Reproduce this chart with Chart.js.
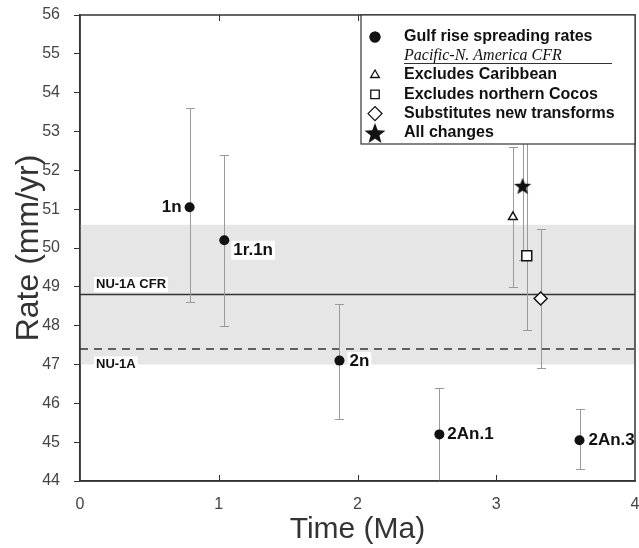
<!DOCTYPE html>
<html>
<head>
<meta charset="utf-8">
<script src="https://cdn.jsdelivr.net/npm/chart.js@4.4.1/dist/chart.umd.min.js"></script>
<style>
  html, body { margin: 0; padding: 0; background: #fff; overflow: hidden; }
  canvas { display: block; }
</style>
</head>
<body>
<canvas id="chart" width="639" height="548"></canvas>
<script>
// Gulf rise spreading rates (anomaly, age in Ma, rate and its error range in mm/yr)
const gulfNames = ["1n", "1r.1n", "2n", "2An.1", "2An.3"];
const gulfAge = [0.79, 1.04, 1.87, 2.59, 3.60];
const gulfRate = [51.05, 50.2, 47.1, 45.2, 45.05];
const gulfLow = [48.6, 48.0, 45.6, 44.0, 44.3];
const gulfHigh = [53.6, 52.4, 48.55, 46.4, 45.85];

// Pacific-N. America CFR variants
const cfrNames = ["Excludes Caribbean", "Excludes northern Cocos", "Substitutes new transforms", "All changes"];
const cfrAge = [3.12, 3.22, 3.32, 3.19];
const cfrRate = [50.8, 49.8, 48.7, 51.6];
const cfrLow = [49.0, 47.9, 46.9, 49.7];
const cfrHigh = [52.6, 53.0, 50.5, 53.5];

// NU-1A reference rates
const nuCfrRate = 48.8;
const nuCfrLow = 47.0;
const nuCfrHigh = 50.6;
const nuRate = 47.4;

const xRange = [0, 4];
const yRange = [44, 56];

const FONT = "'Liberation Sans', Arial, Helvetica, sans-serif";

function starCanvas(r) {
  const c = document.createElement("canvas");
  c.width = c.height = Math.ceil(r * 2 + 2);
  const g = c.getContext("2d");
  g.translate(c.width / 2, c.height / 2 + r * 0.1);
  g.beginPath();
  for (let i = 0; i < 10; i++) {
    const rr = i % 2 ? r * 0.42 : r;
    const a = -Math.PI / 2 + i * Math.PI / 5;
    g.lineTo(rr * Math.cos(a), rr * Math.sin(a));
  }
  g.closePath();
  g.fillStyle = "#111";
  g.fill();
  return c;
}

const cfrStyles = [
  { pointStyle: "triangle", radius: 5, legendRadius: 5 },
  { pointStyle: "rect", radius: 7, legendRadius: 6 },
  { pointStyle: "rectRot", radius: 6.5, legendRadius: 7 },
  { pointStyle: starCanvas(9), radius: 9, legendStyle: starCanvas(11), legendRadius: 11 },
];

const gulfPoints = gulfAge.map((a, i) => ({ x: a, y: gulfRate[i], lo: gulfLow[i], hi: gulfHigh[i] }));

const datasets = [
  {
    label: "band",
    type: "line",
    data: [{ x: xRange[0], y: nuCfrHigh }, { x: xRange[1], y: nuCfrHigh }],
    fill: { value: nuCfrLow },
    backgroundColor: "#e6e6e6",
    borderWidth: 0,
    pointRadius: 0,
    order: 10,
  },
  {
    label: "NU-1A CFR",
    type: "line",
    data: [{ x: xRange[0], y: nuCfrRate }, { x: xRange[1], y: nuCfrRate }],
    borderColor: "#333",
    borderWidth: 1.5,
    pointRadius: 0,
    fill: false,
    order: 9,
  },
  {
    label: "NU-1A",
    type: "line",
    data: [{ x: xRange[0], y: nuRate }, { x: xRange[1], y: nuRate }],
    borderColor: "#333",
    borderWidth: 1.5,
    borderDash: [8, 6],
    pointRadius: 0,
    fill: false,
    order: 9,
  },
  {
    label: "Gulf rise spreading rates",
    data: gulfPoints,
    pointStyle: "circle",
    pointRadius: 5,
    backgroundColor: "#111",
    borderColor: "#111",
    borderWidth: 0,
    errorBars: true,
    names: gulfNames,
    order: 5,
  },
];
cfrNames.forEach((name, i) => {
  datasets.push({
    label: name,
    data: [{ x: cfrAge[i], y: cfrRate[i], lo: cfrLow[i], hi: cfrHigh[i] }],
    pointStyle: cfrStyles[i].pointStyle,
    pointRadius: cfrStyles[i].radius,
    backgroundColor: "#fff",
    borderColor: "#111",
    borderWidth: 1.5,
    errorBars: true,
    order: 1,
  });
});
const GULF = 3;

const errorBars = {
  id: "errorBars",
  beforeDatasetDraw(chart, args) {
    if (args.index !== GULF) return;
    const ctx = chart.ctx, xs = chart.scales.x, ys = chart.scales.y;
    ctx.save();
    ctx.strokeStyle = "#9a9a9a";
    ctx.lineWidth = 1;
    chart.data.datasets.forEach((ds) => {
      if (!ds.errorBars) return;
      ds.data.forEach((p) => {
        const px = Math.round(xs.getPixelForValue(p.x)) + 0.5;
        const top = Math.round(ys.getPixelForValue(p.hi)) + 0.5;
        const bot = Math.round(ys.getPixelForValue(p.lo)) + 0.5;
        ctx.beginPath();
        ctx.moveTo(px, top); ctx.lineTo(px, bot);
        ctx.moveTo(px - 4.5, top); ctx.lineTo(px + 4.5, top);
        ctx.moveTo(px - 4.5, bot); ctx.lineTo(px + 4.5, bot);
        ctx.stroke();
      });
    });
    ctx.restore();
  },
};

function boxedText(ctx, text, x, y, align) {
  const w = ctx.measureText(text).width;
  const h = parseInt(ctx.font.match(/(\d+)px/)[1], 10);
  const left = align === "right" ? x - w : x;
  ctx.fillStyle = "#fff";
  ctx.fillRect(left - 2, y - h / 2 - 1, w + 4, h + 2);
  ctx.fillStyle = "#111";
  ctx.textAlign = align;
  ctx.fillText(text, x, y);
}

const labels = {
  id: "labels",
  afterDatasetsDraw(chart) {
    const ctx = chart.ctx, ys = chart.scales.y, area = chart.chartArea;
    ctx.save();
    ctx.textBaseline = "middle";
    ctx.font = "bold 17px " + FONT;
    const meta = chart.getDatasetMeta(GULF);
    const offs = [[-8, 0, "right"], [9, 10, "left"], [10, 1, "left"], [8, 0, "left"], [9, 0, "left"]];
    gulfNames.forEach((n, i) => {
      const el = meta.data[i];
      boxedText(ctx, n, el.x + offs[i][0], el.y + offs[i][1], offs[i][2]);
    });
    ctx.font = "bold 13px " + FONT;
    boxedText(ctx, "NU-1A CFR", area.left + 16, ys.getPixelForValue(nuCfrRate) - 10, "left");
    boxedText(ctx, "NU-1A", area.left + 16, ys.getPixelForValue(nuRate) + 15, "left");
    ctx.restore();
  },
};

const frame = {
  id: "frame",
  afterDraw(chart) {
    const ctx = chart.ctx, a = chart.chartArea, xs = chart.scales.x;
    ctx.save();
    ctx.strokeStyle = "#333";
    ctx.lineWidth = 1.5;
    ctx.strokeRect(a.left, a.top, a.right - a.left, a.bottom - a.top);
    ctx.lineWidth = 1;
    xs.ticks.forEach((t) => {
      if (t.value <= xRange[0] || t.value >= xRange[1]) return;
      const px = Math.round(xs.getPixelForValue(t.value)) + 0.5;
      ctx.beginPath();
      ctx.moveTo(px, a.bottom); ctx.lineTo(px, a.bottom - 6);
      ctx.moveTo(px, a.top); ctx.lineTo(px, a.top + 6);
      ctx.stroke();
    });
    ctx.restore();
  },
};

const legendBox = {
  id: "legendBox",
  afterDraw(chart) {
    const ctx = chart.ctx, a = chart.chartArea;
    const right = a.right, left = right - 274, top = a.top, bottom = a.top + 129;
    ctx.save();
    ctx.fillStyle = "#fff";
    ctx.fillRect(left, top, right - left, bottom - top);
    ctx.strokeStyle = "#333";
    ctx.lineWidth = 1.2;
    ctx.strokeRect(left, top, right - left, bottom - top);
    const mx = left + 14, tx = left + 43;
    ctx.textBaseline = "middle";
    ctx.textAlign = "left";
    // filled circle row
    let y = top + 22;
    ctx.fillStyle = "#111";
    Chart.helpers.drawPoint(ctx, { pointStyle: "circle", radius: 5.5, borderWidth: 0 }, mx, y);
    ctx.fill();
    ctx.font = "bold 16px " + FONT;
    ctx.fillText("Gulf rise spreading rates", tx, y);
    // italic header
    y = top + 41;
    ctx.font = "italic 16px 'Liberation Serif', 'Times New Roman', serif";
    ctx.fillText("Pacific-N. America CFR", tx, y);
    ctx.lineWidth = 1;
    ctx.beginPath();
    ctx.moveTo(tx, y + 7.5); ctx.lineTo(right - 23, y + 7.5);
    ctx.stroke();
    ctx.font = "bold 16px " + FONT;
    cfrNames.forEach((name, i) => {
      const yy = top + 60 + i * 19.3;
      const st = cfrStyles[i];
      ctx.fillStyle = "#fff";
      ctx.strokeStyle = "#111";
      ctx.lineWidth = 1.3;
      Chart.helpers.drawPoint(ctx, { pointStyle: st.legendStyle || st.pointStyle, radius: st.legendRadius, borderWidth: 1.3 }, mx, yy);
      ctx.fillStyle = "#111";
      ctx.fillText(name, tx, yy);
    });
    ctx.restore();
  },
};

new Chart(document.getElementById("chart"), {
  type: "scatter",
  data: { datasets },
  options: {
    responsive: false,
    devicePixelRatio: 1,
    animation: false,
    layout: { autoPadding: false, padding: { top: 15, right: 4, left: 0, bottom: 0 } },
    plugins: { legend: { display: false }, tooltip: { enabled: false } },
    scales: {
      x: {
        type: "linear",
        min: xRange[0],
        max: xRange[1],
        ticks: { stepSize: 1, color: "#444", font: { family: FONT, size: 16 }, padding: 0 },
        grid: { drawOnChartArea: false, tickLength: 14, tickColor: "rgba(0,0,0,0)" },
        border: { color: "#333", width: 1.5 },
        title: { display: true, text: "Time (Ma)", color: "#333", font: { family: FONT, size: 30 }, padding: { top: 0, bottom: 0 } },
        afterFit(s) { s.height = 67; s.paddingLeft = 0; s.paddingRight = 0; },
      },
      y: {
        min: yRange[0],
        max: yRange[1],
        ticks: { stepSize: 1, color: "#444", font: { family: FONT, size: 16 }, padding: 14 },
        grid: { drawOnChartArea: false, tickLength: 6, color: "#333" },
        border: { color: "#333", width: 1.5 },
        title: { display: true, text: "Rate (mm/yr)", color: "#333", font: { family: FONT, size: 32 }, padding: { top: 10, bottom: 0 } },
        afterFit(s) { s.width = 80; s.paddingTop = 0; s.paddingBottom = 0; },
      },
    },
  },
  plugins: [errorBars, labels, frame, legendBox],
});
</script>
</body>
</html>
